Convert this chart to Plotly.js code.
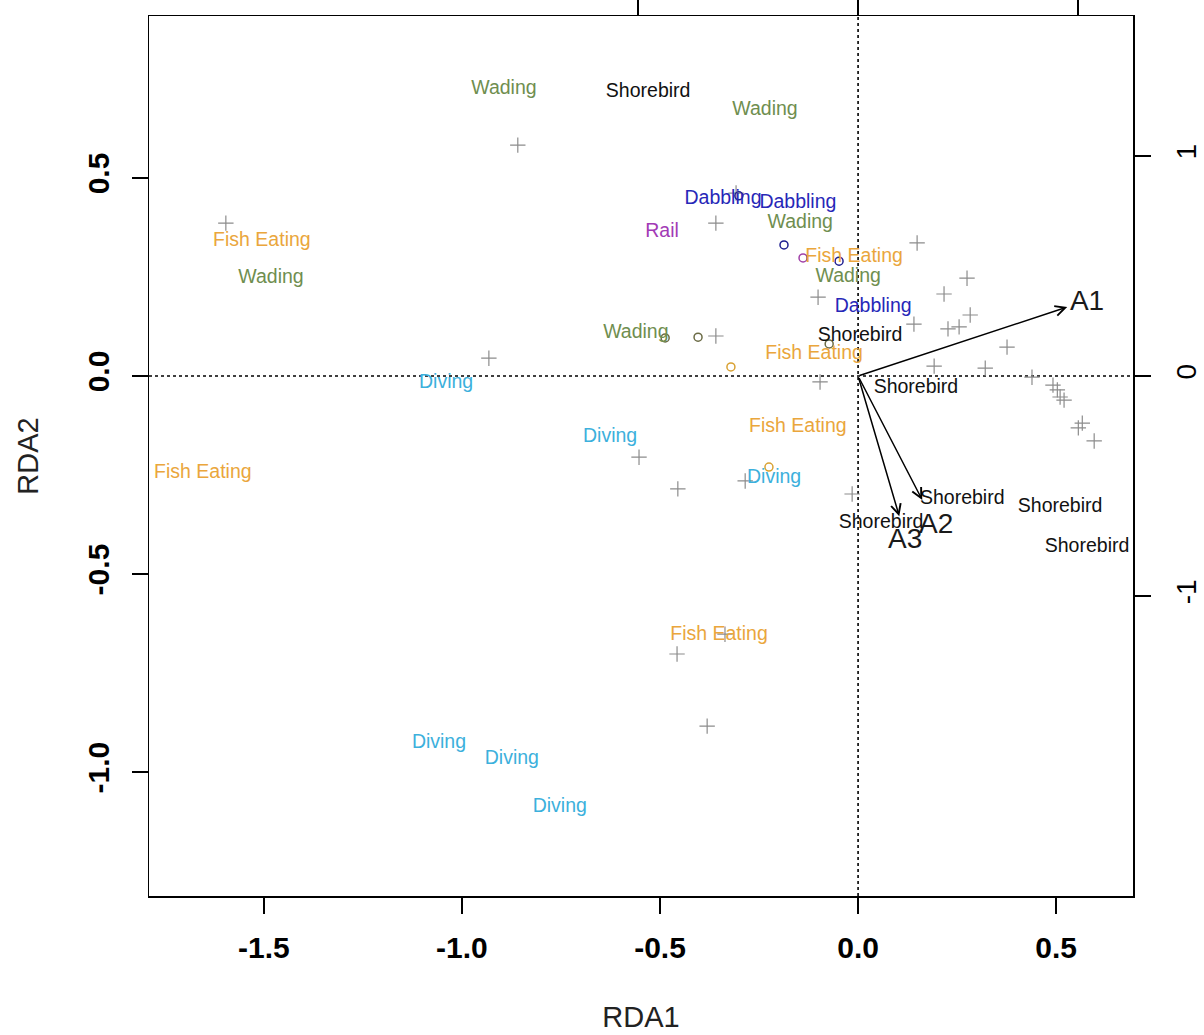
<!DOCTYPE html>
<html><head><meta charset="utf-8">
<script src="https://cdn.plot.ly/plotly-3.0.1.min.js"></script>
<style>html,body{margin:0;padding:0;background:#fff}</style>
</head><body>
<div id="chart" style="width:1204px;height:1035px"></div>
<script>
// Species labels (text) with functional group
const speciesLabel = ['Wading','Shorebird','Wading','Dabbling','Dabbling','Wading','Rail','Fish Eating','Fish Eating','Wading',
  'Wading','Dabbling','Shorebird','Wading','Fish Eating','Diving','Shorebird','Diving','Fish Eating','Fish Eating',
  'Diving','Shorebird','Shorebird','Shorebird','Shorebird','Fish Eating','Diving','Diving','Diving'];
const speciesX = [-0.894,-0.530,-0.235,-0.341,-0.152,-0.146,-0.495,-1.505,-0.010,-1.482,
  -0.025,0.038,0.005,-0.561,-0.111,-1.040,0.146,-0.626,-0.152,-1.654,
  -0.212,0.263,0.510,0.058,0.578,-0.351,-1.058,-0.874,-0.753];
const speciesY = [0.725,0.717,0.672,0.447,0.437,0.386,0.364,0.341,0.301,0.247,
  0.250,0.174,0.101,0.109,0.056,-0.018,-0.030,-0.154,-0.129,-0.245,
  -0.258,-0.311,-0.331,-0.371,-0.432,-0.654,-0.927,-0.967,-1.088];

// Site scores (grey crosses)
const siteX = [-1.596,-0.859,-0.932,-0.308,-0.359,0.149,-0.101,0.275,0.217,0.283,
  0.141,0.227,0.255,0.376,-0.359,0.192,0.321,-0.096,0.439,0.492,
  0.503,0.510,0.520,0.566,0.556,0.596,-0.553,-0.455,-0.285,-0.015,
  -0.457,-0.336,-0.381];
const siteY = [0.386,0.583,0.045,0.462,0.386,0.336,0.199,0.247,0.207,0.154,
  0.131,0.119,0.124,0.073,0.101,0.025,0.020,-0.015,-0.003,-0.023,
  -0.035,-0.053,-0.061,-0.119,-0.131,-0.164,-0.205,-0.285,-0.265,-0.298,
  -0.702,-0.652,-0.884];

// Small open circles (species points) with group
const pointGroup = ['Dabbling','Dabbling','Rail','Dabbling','Wading','Wading','Wading','Fish Eating','Fish Eating'];
const pointX = [-0.301,-0.187,-0.139,-0.048,-0.487,-0.404,-0.073,-0.321,-0.225];
const pointY = [0.455,0.331,0.298,0.290,0.096,0.098,0.081,0.023,-0.230];

// Biplot arrows
const arrowName = ['A1','A2','A3'];
const arrowX = [0.528,0.162,0.104];
const arrowY = [0.174,-0.313,-0.354];
const arrowLabelX = [0.578,0.197,0.119];
const arrowLabelY = [0.184,-0.379,-0.417];

// Tick labels
const xTickVals = [-1.5,-1,-0.5,0,0.5];
const xTickText = ['-1.5','-1.0','-0.5','0.0','0.5'];
const yTickVals = [-1,-0.5,0,0.5];
const yTickText = ['-1.0','-0.5','0.0','0.5'];
const x2TickVals = [-1,0,1];
const y2TickVals = [-1,0,1];
const y2TickText = ['-1','0','1'];

const groupOrder = ['Wading','Shorebird','Dabbling','Rail','Fish Eating','Diving'];
const textColor = {'Wading':'#6f8e4f','Shorebird':'#111111','Dabbling':'#2727b8','Rail':'#a23ab6','Fish Eating':'#eaa63c','Diving':'#3cb0dc'};
const pointColor = {'Wading':'#6b6b45','Dabbling':'#1f1f90','Rail':'#a040a8','Fish Eating':'#d9a234'};

const FONT = 'Liberation Sans, Arial, sans-serif';
const traces = [];

// carrier for the secondary (top/right) axes
traces.push({type:'scatter', mode:'markers', x:[], y:[], xaxis:'x2', yaxis:'y2', hoverinfo:'skip', showlegend:false});

traces.push({type:'scatter', mode:'markers', x:siteX, y:siteY, hoverinfo:'skip', showlegend:false,
  marker:{symbol:'cross-thin', size:11, line:{color:'#8c8c8c', width:1.2}}});

Object.keys(pointColor).forEach(g => {
  const xs=[], ys=[];
  pointGroup.forEach((pg,i)=>{ if(pg===g){xs.push(pointX[i]); ys.push(pointY[i]);} });
  traces.push({type:'scatter', mode:'markers', x:xs, y:ys, hoverinfo:'skip', showlegend:false,
    marker:{symbol:'circle-open', size:8, color:pointColor[g], line:{color:pointColor[g], width:1.5}}});
});

groupOrder.forEach(g => {
  const xs=[], ys=[], ts=[];
  speciesLabel.forEach((s,i)=>{ if(s===g){xs.push(speciesX[i]); ys.push(speciesY[i]); ts.push(s);} });
  traces.push({type:'scatter', mode:'text', x:xs, y:ys, text:ts, textposition:'middle center',
    cliponaxis:false, hoverinfo:'skip', showlegend:false,
    textfont:{family:FONT, size:19.5, color:textColor[g]}});
});

traces.push({type:'scatter', mode:'text', x:arrowLabelX, y:arrowLabelY, text:arrowName,
  textposition:'middle center', cliponaxis:false, hoverinfo:'skip', showlegend:false,
  textfont:{family:FONT, size:28, color:'#1a1a1a'}});

const annotations = arrowName.map((n,i)=>({
  x:arrowX[i], y:arrowY[i], xref:'x', yref:'y', ax:0, ay:0, axref:'x', ayref:'y',
  text:' ', font:{size:1}, showarrow:true, arrowhead:5, arrowsize:1.3, arrowwidth:1.5,
  arrowcolor:'#000', standoff:0, startstandoff:0
}));

const tickFontBold = {family:FONT, size:30, color:'#000', weight:'bold'};

const layout = {
  width:1204, height:1035,
  margin:{l:149, r:71, t:16, b:139, pad:0},
  paper_bgcolor:'#fff', plot_bgcolor:'#fff',
  showlegend:false,
  font:{family:FONT, color:'#000'},
  xaxis:{range:[-1.790,0.694], tickvals:xTickVals, ticktext:xTickText, ticks:'outside', ticklen:16,
    tickwidth:1.5, tickcolor:'#000', tickfont:tickFontBold, ticklabelstandoff:8,
    showline:true, linecolor:'#000', linewidth:1.5, showgrid:false, zeroline:false,
    title:{text:'RDA1', font:{family:FONT, size:29, color:'#222'}, standoff:44}},
  yaxis:{range:[-1.313,0.909], tickvals:yTickVals, ticktext:yTickText, ticks:'outside', ticklen:16,
    tickwidth:1.5, tickcolor:'#000', tickfont:tickFontBold, tickangle:-90, ticklabelstandoff:11,
    showline:true, linecolor:'#000', linewidth:1.5, showgrid:false, zeroline:false,
    title:{text:'RDA2', font:{family:FONT, size:29, color:'#222'}, standoff:34}},
  xaxis2:{overlaying:'x', side:'top', anchor:'y', range:[-3.222,1.249], tickvals:x2TickVals,
    ticks:'outside', ticklen:16, tickwidth:1.5, tickcolor:'#000', showticklabels:false,
    showline:true, linecolor:'#000', linewidth:1.5, showgrid:false, zeroline:false},
  yaxis2:{overlaying:'y', side:'right', anchor:'x', range:[-2.363,1.636], tickvals:y2TickVals, ticktext:y2TickText,
    ticks:'outside', ticklen:16, tickwidth:1.5, tickcolor:'#000', tickangle:-90, ticklabelstandoff:12,
    tickfont:{family:FONT, size:28, color:'#000'},
    showline:true, linecolor:'#000', linewidth:1.5, showgrid:false, zeroline:false},
  shapes:[
    {type:'line', xref:'x', yref:'paper', x0:0, x1:0, y0:0, y1:1, layer:'below', line:{color:'#000', width:1.6, dash:'dot'}},
    {type:'line', xref:'paper', yref:'y', x0:0, x1:1, y0:0, y1:0, layer:'below', line:{color:'#000', width:1.6, dash:'dot'}}
  ],
  annotations:annotations
};

Plotly.newPlot('chart', traces, layout, {displayModeBar:false, staticPlot:true});
</script>
</body></html>
